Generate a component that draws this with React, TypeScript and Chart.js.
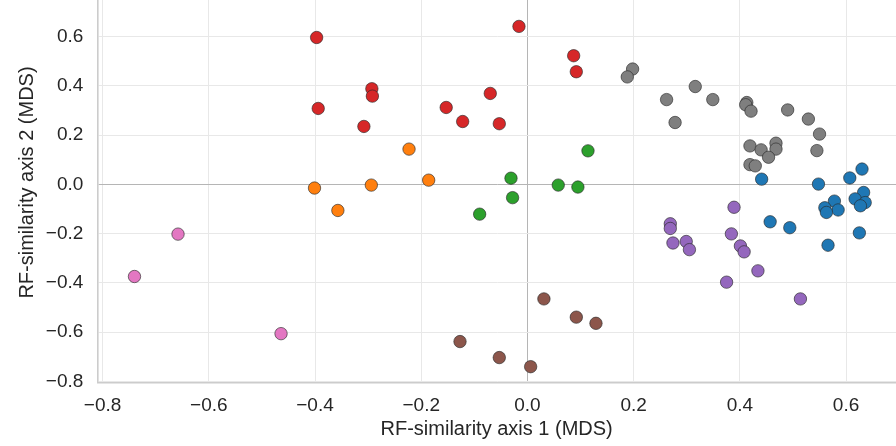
import React, { useEffect, useRef } from "react";
import { Chart, registerables } from "chart.js";

Chart.register(...registerables);

// ---- Data ----
const RED_X = [-0.397, -0.016, 0.087, 0.092, -0.293, -0.292, -0.394, -0.308, -0.07, -0.153, -0.122, -0.053];
const RED_Y = [0.596, 0.641, 0.522, 0.457, 0.388, 0.358, 0.308, 0.235, 0.369, 0.312, 0.255, 0.246];

const ORANGE_X = [-0.401, -0.294, -0.357, -0.223, -0.186];
const ORANGE_Y = [-0.015, -0.003, -0.106, 0.143, 0.017];

const GREEN_X = [0.114, -0.031, -0.028, -0.09, 0.058, 0.095];
const GREEN_Y = [0.136, 0.025, -0.054, -0.121, -0.003, -0.011];

const GRAY_X = [0.198, 0.188, 0.316, 0.262, 0.349, 0.278, 0.413, 0.411, 0.421, 0.49, 0.529, 0.55, 0.545, 0.419, 0.44, 0.468, 0.468, 0.454, 0.419, 0.429];
const GRAY_Y = [0.468, 0.436, 0.397, 0.344, 0.344, 0.251, 0.332, 0.323, 0.297, 0.302, 0.265, 0.204, 0.137, 0.156, 0.14, 0.167, 0.143, 0.11, 0.08, 0.075];

const BLUE_X = [0.441, 0.548, 0.607, 0.63, 0.633, 0.617, 0.636, 0.627, 0.578, 0.585, 0.56, 0.563, 0.457, 0.494, 0.625, 0.566];
const BLUE_Y = [0.021, 0.001, 0.026, 0.062, -0.033, -0.059, -0.074, -0.087, -0.068, -0.104, -0.095, -0.114, -0.152, -0.176, -0.197, -0.247];

const PURPLE_X = [0.389, 0.269, 0.269, 0.274, 0.299, 0.305, 0.384, 0.401, 0.408, 0.434, 0.375, 0.514];
const PURPLE_Y = [-0.093, -0.16, -0.179, -0.238, -0.232, -0.265, -0.201, -0.25, -0.274, -0.351, -0.397, -0.465];

const BROWN_X = [0.031, 0.092, 0.129, -0.127, -0.053, 0.006];
const BROWN_Y = [-0.465, -0.539, -0.564, -0.638, -0.703, -0.74];

const PINK_X = [-0.658, -0.74, -0.464];
const PINK_Y = [-0.202, -0.374, -0.606];

const X_TICKS = [-0.8, -0.6, -0.4, -0.2, 0, 0.2, 0.4, 0.6];
const Y_TICKS = [-0.8, -0.6, -0.4, -0.2, 0, 0.2, 0.4, 0.6];

const X_TITLE = "RF-similarity axis 1 (MDS)";
const Y_TITLE = "RF-similarity axis 2 (MDS)";

const GROUPS = [
  { name: "red", color: "#d62728", xs: RED_X, ys: RED_Y },
  { name: "orange", color: "#ff7f0e", xs: ORANGE_X, ys: ORANGE_Y },
  { name: "green", color: "#2ca02c", xs: GREEN_X, ys: GREEN_Y },
  { name: "gray", color: "#7f7f7f", xs: GRAY_X, ys: GRAY_Y },
  { name: "blue", color: "#1f77b4", xs: BLUE_X, ys: BLUE_Y },
  { name: "purple", color: "#9467bd", xs: PURPLE_X, ys: PURPLE_Y },
  { name: "brown", color: "#8c564b", xs: BROWN_X, ys: BROWN_Y },
  { name: "pink", color: "#e377c2", xs: PINK_X, ys: PINK_Y },
];

const W = 896;
const H = 446;
const SHIFT = 60; // canvas extends above the visible window (cropped top)

const FONT = "'Liberation Sans', Arial, sans-serif";
const TEXT = "#262626";

const fmt = (v: number) => (v < 0 ? "\u2212" : "") + Math.abs(v).toFixed(1);

export default function App() {
  const ref = useRef<HTMLCanvasElement | null>(null);

  useEffect(() => {
    document.body.style.margin = "0";
    const canvas = ref.current;
    if (!canvas) return;
    const chart = new Chart(canvas, {
      type: "scatter",
      data: {
        datasets: GROUPS.map((g) => ({
          label: g.name,
          data: g.xs.map((x, i) => ({ x, y: g.ys[i] })),
          backgroundColor: g.color,
          borderColor: "rgba(40,40,40,0.9)",
          borderWidth: 0.7,
          pointRadius: 6.2,
          pointHoverRadius: 6.2,
        })),
      },
      options: {
        responsive: false,
        animation: false,
        devicePixelRatio: 1,
        layout: { autoPadding: false, padding: { top: 42.3, right: 0, bottom: 0, left: 0 } },
        plugins: { legend: { display: false }, tooltip: { enabled: false } },
        scales: {
          x: {
            type: "linear",
            min: -0.81,
            max: 0.694,
            afterBuildTicks: (s: any) => {
              s.ticks = X_TICKS.map((v) => ({ value: v }));
            },
            afterFit: (s: any) => {
              s.height = 63.3;
              s.paddingLeft = 0;
              s.paddingRight = 0;
              s.paddingTop = 0;
              s.paddingBottom = 0;
            },
            grid: {
              drawTicks: false,
              color: (c: any) => (c.tick && c.tick.value === 0 ? "#b5b5b5" : "#e8e8e8"),
              lineWidth: 1,
            },
            border: { color: "#cccccc", width: 1.6 },
            ticks: {
              padding: 12,
              color: TEXT,
              font: { family: FONT, size: 19 },
              callback: (v: any) => fmt(Number(v)),
            },
            title: {
              display: true,
              text: X_TITLE,
              color: TEXT,
              font: { family: FONT, size: 20 },
              padding: { top: 0, bottom: 5 },
            },
          },
          y: {
            type: "linear",
            min: -0.805,
            max: 0.82,
            afterBuildTicks: (s: any) => {
              s.ticks = Y_TICKS.map((v) => ({ value: v }));
            },
            afterFit: (s: any) => {
              s.width = 97.3;
              s.paddingLeft = 0;
              s.paddingRight = 0;
              s.paddingTop = 0;
              s.paddingBottom = 0;
            },
            grid: {
              drawTicks: false,
              color: (c: any) => (c.tick && c.tick.value === 0 ? "#b5b5b5" : "#e8e8e8"),
              lineWidth: 1,
            },
            border: { color: "#cccccc", width: 1.6 },
            ticks: {
              padding: 14,
              color: TEXT,
              font: { family: FONT, size: 19 },
              callback: (v: any) => fmt(Number(v)),
            },
            title: {
              display: true,
              text: Y_TITLE,
              color: TEXT,
              font: { family: FONT, size: 20 },
              padding: { top: 15, bottom: 0 },
            },
          },
        },
      },
    } as any);
    return () => chart.destroy();
  }, []);

  return (
    <div style={{ position: "relative", width: W, height: H, overflow: "hidden", background: "#fff" }}>
      <canvas
        ref={ref}
        width={W}
        height={H + SHIFT}
        style={{ position: "absolute", left: 0, top: -SHIFT, width: W, height: H + SHIFT, display: "block" }}
      />
    </div>
  );
}
